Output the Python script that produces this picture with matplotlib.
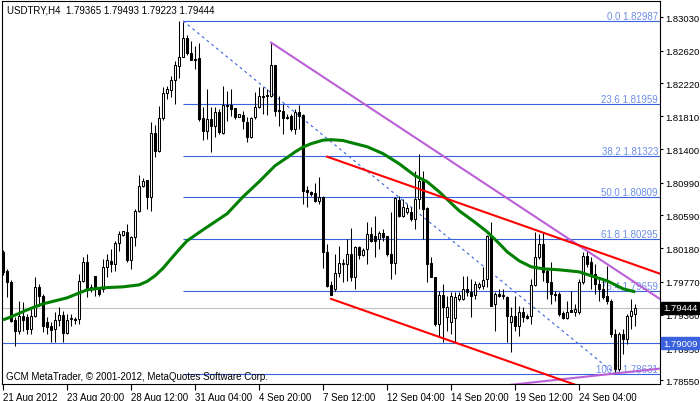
import numpy as np
import matplotlib
matplotlib.use("Agg")
import matplotlib.pyplot as plt

plt.rcParams['font.family'] = ['Liberation Sans', 'DejaVu Sans']

# --- data: USDTRY H4 candles ---
header = "USDTRY,H4  1.79365 1.79493 1.79223 1.79444"
opens = [
    1.80137, 1.79902, 1.79767, 1.79297, 1.79161, 1.79346, 1.79334, 1.79186, 1.79346, 1.79705,
    1.79594, 1.79272, 1.79223, 1.79186, 1.79297, 1.79359, 1.79136, 1.79309, 1.79309, 1.79309,
    1.79779, 1.80014, 1.79680, 1.79841, 1.79680, 1.79680, 1.79952, 1.80026, 1.79989, 1.80248,
    1.80347, 1.80384, 1.80038, 1.80323, 1.80644, 1.80953, 1.81027, 1.80817, 1.81607, 1.81385,
    1.81793, 1.82102, 1.82139, 1.82262, 1.82435, 1.82546, 1.82781, 1.82596, 1.82522, 1.82534,
    1.81793, 1.81632, 1.81780, 1.81694, 1.81867, 1.81607, 1.81953, 1.81953, 1.81916, 1.81805,
    1.81830, 1.81743, 1.81558, 1.81805, 1.81929, 1.82065, 1.82065, 1.82065, 1.82448, 1.81892,
    1.81879, 1.81805, 1.81817, 1.81657, 1.81867, 1.81830, 1.80903, 1.80878, 1.80866, 1.80767,
    1.80817, 1.80137, 1.79729, 1.79680, 1.79878, 1.79989, 1.79989, 1.80112, 1.79828, 1.80199,
    1.80100, 1.80174, 1.80360, 1.80335, 1.80298, 1.80372, 1.80335, 1.80112, 1.80001, 1.80780,
    1.80582, 1.80631, 1.80631, 1.80545, 1.80792, 1.81014, 1.80681, 1.80001, 1.79828, 1.79248,
    1.79606, 1.79334, 1.79272, 1.79322, 1.79556, 1.79556, 1.79680, 1.79643, 1.79606, 1.79705,
    1.79717, 1.79804, 1.80335, 1.79495, 1.79618, 1.79606, 1.79581, 1.79272, 1.79346, 1.79223,
    1.79396, 1.79346, 1.79346, 1.79729, 1.80075, 1.80236, 1.79902, 1.79767, 1.79618, 1.79618,
    1.79384, 1.79322, 1.79421, 1.79396, 1.79396, 1.79767, 1.80088, 1.80014, 1.79865, 1.79742,
    1.79680, 1.79594, 1.79532, 1.79124, 1.78692, 1.79124, 1.79062, 1.79346, 1.79365,
]
highs = [
    1.80162, 1.79927, 1.79791, 1.79334, 1.79532, 1.79519, 1.79371, 1.79433, 1.79828, 1.79742,
    1.79618, 1.79334, 1.79272, 1.79396, 1.79458, 1.79408, 1.79371, 1.79371, 1.79334, 1.79865,
    1.80075, 1.80112, 1.79742, 1.79841, 1.79680, 1.80051, 1.80112, 1.80174, 1.80273, 1.80397,
    1.80397, 1.80483, 1.80335, 1.80668, 1.81089, 1.81051, 1.81027, 1.81743, 1.81706, 1.81941,
    1.82176, 1.82188, 1.82312, 1.82497, 1.82987, 1.82979, 1.82818, 1.82744, 1.82682, 1.82719,
    1.81929, 1.82151, 1.81929, 1.81929, 1.81904, 1.82188, 1.82126, 1.82151, 1.81916, 1.81842,
    1.81879, 1.81805, 1.81805, 1.82114, 1.82176, 1.82176, 1.82151, 1.82719, 1.82448, 1.82065,
    1.81966, 1.81842, 1.81842, 1.81904, 1.81953, 1.81842, 1.80953, 1.80891, 1.80990, 1.81064,
    1.80829, 1.80236, 1.79779, 1.80112, 1.80211, 1.80051, 1.80298, 1.80434, 1.80211, 1.80211,
    1.80187, 1.80508, 1.80446, 1.80582, 1.80397, 1.80421, 1.80335, 1.80631, 1.80817, 1.80829,
    1.80792, 1.80730, 1.80693, 1.81138, 1.81348, 1.81138, 1.80693, 1.80075, 1.79828, 1.79655,
    1.79742, 1.79594, 1.79643, 1.79643, 1.79643, 1.79841, 1.79841, 1.79804, 1.79779, 1.79767,
    1.79952, 1.80347, 1.80508, 1.79643, 1.79680, 1.79680, 1.79594, 1.79458, 1.79594, 1.79470,
    1.79458, 1.79371, 1.79804, 1.80384, 1.80360, 1.80384, 1.79927, 1.80014, 1.79655, 1.79643,
    1.79408, 1.79532, 1.79655, 1.79495, 1.79804, 1.80137, 1.80150, 1.80075, 1.79989, 1.79804,
    1.79804, 1.79964, 1.79556, 1.79186, 1.79149, 1.79186, 1.79371, 1.79556, 1.79493,
]
lows = [
    1.79853, 1.79581, 1.79272, 1.78976, 1.79124, 1.79161, 1.79124, 1.79124, 1.79334, 1.79470,
    1.79149, 1.79124, 1.79025, 1.79025, 1.79223, 1.79025, 1.79124, 1.79223, 1.79248, 1.79248,
    1.79767, 1.79581, 1.79643, 1.79594, 1.79594, 1.79643, 1.79828, 1.79890, 1.79902, 1.80150,
    1.80335, 1.80014, 1.79927, 1.80211, 1.80631, 1.80940, 1.80668, 1.80644, 1.81311, 1.81373,
    1.81768, 1.82027, 1.82052, 1.81966, 1.82287, 1.82546, 1.82571, 1.82509, 1.82398, 1.81756,
    1.81521, 1.81533, 1.81373, 1.81558, 1.81595, 1.81595, 1.81756, 1.81817, 1.81780, 1.81805,
    1.81657, 1.81496, 1.81546, 1.81780, 1.81916, 1.81842, 1.81830, 1.82052, 1.81817, 1.81694,
    1.81595, 1.81780, 1.81632, 1.81595, 1.81657, 1.80730, 1.80693, 1.80829, 1.80755, 1.80730,
    1.79940, 1.79705, 1.79606, 1.79655, 1.79828, 1.79767, 1.79779, 1.79779, 1.79680, 1.80051,
    1.80088, 1.79989, 1.80261, 1.80075, 1.80174, 1.80273, 1.80088, 1.79804, 1.79865, 1.80570,
    1.80570, 1.80607, 1.80520, 1.80421, 1.80668, 1.80298, 1.79767, 1.79828, 1.79223, 1.79087,
    1.79025, 1.79161, 1.79124, 1.79025, 1.79532, 1.79544, 1.79594, 1.79334, 1.79556, 1.79680,
    1.79680, 1.79705, 1.79470, 1.79161, 1.79581, 1.79556, 1.79025, 1.78902, 1.79161, 1.79099,
    1.79272, 1.79309, 1.79248, 1.79717, 1.80051, 1.79779, 1.79556, 1.79495, 1.79532, 1.79346,
    1.79309, 1.79309, 1.79396, 1.79346, 1.79371, 1.79742, 1.79952, 1.79680, 1.79618, 1.79532,
    1.79556, 1.79495, 1.79087, 1.78631, 1.78667, 1.78877, 1.79001, 1.79186, 1.79223,
]
closes = [
    1.79890, 1.79767, 1.79285, 1.79161, 1.79346, 1.79297, 1.79186, 1.79346, 1.79705, 1.79594,
    1.79223, 1.79211, 1.79173, 1.79297, 1.79359, 1.79136, 1.79297, 1.79322, 1.79297, 1.79779,
    1.80014, 1.79680, 1.79705, 1.79680, 1.79618, 1.79952, 1.80038, 1.79989, 1.80248, 1.80360,
    1.80397, 1.80038, 1.80323, 1.80644, 1.80953, 1.81014, 1.80817, 1.81607, 1.81385, 1.81793,
    1.82102, 1.82151, 1.82262, 1.82448, 1.82546, 1.82781, 1.82596, 1.82509, 1.82509, 1.81780,
    1.81632, 1.81780, 1.81694, 1.81867, 1.81620, 1.81953, 1.81941, 1.81904, 1.81805, 1.81842,
    1.81756, 1.81558, 1.81793, 1.81929, 1.82065, 1.82052, 1.82077, 1.82448, 1.81879, 1.81879,
    1.81793, 1.81793, 1.81657, 1.81867, 1.81817, 1.80891, 1.80878, 1.80854, 1.80767, 1.80817,
    1.80137, 1.79717, 1.79606, 1.79878, 1.80001, 1.80001, 1.80112, 1.79828, 1.80199, 1.80100,
    1.80162, 1.80360, 1.80273, 1.80273, 1.80372, 1.80323, 1.80112, 1.80001, 1.80804, 1.80582,
    1.80693, 1.80681, 1.80545, 1.80792, 1.81014, 1.80668, 1.79989, 1.79828, 1.79248, 1.79606,
    1.79458, 1.79458, 1.79594, 1.79581, 1.79606, 1.79680, 1.79643, 1.79594, 1.79742, 1.79742,
    1.79791, 1.80335, 1.79470, 1.79618, 1.79594, 1.79594, 1.79346, 1.79346, 1.79223, 1.79396,
    1.79334, 1.79322, 1.79729, 1.80075, 1.80236, 1.79890, 1.79767, 1.79618, 1.79606, 1.79371,
    1.79322, 1.79396, 1.79396, 1.79433, 1.79767, 1.80088, 1.79989, 1.79865, 1.79742, 1.79680,
    1.79581, 1.79532, 1.79124, 1.78692, 1.79124, 1.79062, 1.79346, 1.79408, 1.79444,
]

# moving average (green), read at selected bars
ma_idx = [0, 2, 6, 10, 16, 21, 25, 30, 34, 36, 38, 40, 42, 44, 46, 50, 53, 56, 60, 64,
          68, 71, 73, 75, 77, 80, 82, 85, 87, 91, 95, 99, 103, 106, 109, 114, 118, 121,
          124, 126, 129, 132, 135, 139, 144, 147, 151, 155, 158]
ma_val = [1.79297, 1.79334, 1.79420, 1.79495, 1.79569, 1.79668, 1.79693, 1.79705, 1.79729,
          1.79772, 1.79841, 1.79935, 1.80051, 1.80165, 1.80273, 1.80409, 1.80508, 1.80607,
          1.80817, 1.81002, 1.81200, 1.81300, 1.81370, 1.81430, 1.81471, 1.81515, 1.81521,
          1.81510, 1.81484, 1.81434, 1.81348, 1.81224, 1.81076, 1.81002, 1.80878, 1.80644,
          1.80500, 1.80384, 1.80240, 1.80137, 1.80026, 1.79952, 1.79927, 1.79915, 1.79890,
          1.79841, 1.79779, 1.79680, 1.79643]

# fibonacci retracement (peak bar -> low bar)
fib_bars = [45, 153]
fib_levels = ["0.0", "23.6", "38.2", "50.0", "61.8", "76.4", "100.0"]
fib_prices = [1.82987, 1.81959, 1.81323, 1.80809, 1.80295, 1.79659, 1.78631]

# trend lines: two anchor points (bar, price) each, drawn as rays to the right
purple_top = ([67, 145], [1.82719, 1.80180])
purple_low = ([153, 164], [1.78636, 1.78695])
red_top = ([81, 145], [1.81311, 1.80200])
red_low = ([82, 146], [1.79556, 1.78445])

support_line = 1.79009
bid = 1.79444

x_tick_bars = [0, 16, 32, 48, 64, 80, 96, 112, 128, 144]
x_tick_labels = ["21 Aug 2012", "23 Aug 20:00", "28 Aug 12:00", "31 Aug 04:00",
                 "4 Sep 20:00", "7 Sep 12:00", "12 Sep 04:00", "14 Sep 20:00",
                 "19 Sep 12:00", "24 Sep 04:00"]
y_ticks = [1.83030, 1.82620, 1.82220, 1.81810, 1.81400, 1.80990, 1.80590,
           1.80180, 1.79770, 1.79360, 1.78950, 1.78550]

FIB_BLUE = "#3a62dc"
FIB_TEXT = "#6d8ee6"
PURPLE = "#bb5fd6"

o = np.array(opens)
h = np.array(highs)
l = np.array(lows)
c = np.array(closes)
x = np.arange(len(o))
up = c >= o

fig = plt.figure(figsize=(7.0, 4.02), dpi=100)
ax = fig.add_axes([2 / 700, 17 / 402, 658 / 700, 383 / 402])
ax.set_xlim(-0.25, 164.2)
ax.set_ylim(1.78506, 1.83232)
xmax = ax.get_xlim()[1]

# horizontal lines
ax.axhline(bid, color="#c0c0c0", lw=0.8, zorder=1)
ax.axhline(support_line, color=FIB_BLUE, lw=0.8, zorder=1)
ax.hlines(fib_prices, fib_bars[0], xmax, color=FIB_BLUE, lw=0.8, zorder=1)
ax.plot(fib_bars, [fib_prices[0], fib_prices[-1]], color=FIB_BLUE, lw=0.8,
        linestyle=(0, (2.5, 3)), zorder=2)
for lev, p in zip(fib_levels, fib_prices):
    ax.text(163.7, p, f"{lev} {p:.5f}", color=FIB_TEXT, fontsize=7,
            ha="right", va="bottom", zorder=2)

# candles
ax.vlines(x, l, h, color="black", lw=0.75, zorder=3)
ax.bar(x[up], (c - o)[up], bottom=o[up], width=0.6, color="white",
       edgecolor="black", lw=0.75, zorder=4)
ax.bar(x[~up], (o - c)[~up], bottom=c[~up], width=0.6, color="black",
       edgecolor="black", lw=0.75, zorder=4)

# moving average
ax.plot(ma_idx, ma_val, color="#008000", lw=2.2, zorder=5, solid_capstyle="butt")


def ray(anchor, start, color):
    (x0, x1), (y0, y1) = anchor
    slope = (y1 - y0) / (x1 - x0)
    xs = np.array([start, xmax])
    ax.plot(xs, y0 + slope * (xs - x0), color=color, lw=1.5, zorder=5)


ray(purple_top, purple_top[0][0], PURPLE)
ray(purple_low, 120, PURPLE)
ray(red_top, red_top[0][0], "red")
ray(red_low, red_low[0][0], "red")

# axes styling
for s in ax.spines.values():
    s.set_color("black")
    s.set_linewidth(0.8)
ax.yaxis.tick_right()
ax.set_yticks(y_ticks)
ax.set_yticklabels([f"{v:.5f}" for v in y_ticks])
ax.set_xticks(x_tick_bars)
ax.set_xticklabels(x_tick_labels)
for lbl in ax.get_xticklabels():
    lbl.set_ha("left")
ax.tick_params(axis="y", direction="out", length=2.5, pad=1, labelsize=6.8, width=0.8)
ax.tick_params(axis="x", direction="out", length=4, pad=1.5, labelsize=7, width=0.8)

# price boxes on the right axis
box_x = 1.0 + 3 / 658
ax.text(box_x, bid, f"{bid:.5f}", transform=ax.get_yaxis_transform(), color="white",
        fontsize=6.8, va="center", ha="left", zorder=10, clip_on=False,
        bbox=dict(boxstyle="square,pad=0.18", fc="black", ec="black"))
ax.text(box_x, support_line, f"{support_line:.5f}", transform=ax.get_yaxis_transform(),
        color="white", fontsize=6.8, va="center", ha="left", zorder=10, clip_on=False,
        bbox=dict(boxstyle="square,pad=0.18", fc=FIB_BLUE, ec=FIB_BLUE))

fig.text(7 / 700, 1 - 10.5 / 402, header, fontsize=7, va="center", ha="left")
fig.text(6 / 700, 1 - 377.5 / 402,
         "GCM MetaTrader, \u00a9 2001-2012, MetaQuotes Software Corp.",
         fontsize=7, va="center", ha="left", zorder=6)

fig.savefig("out.png", dpi=100)
